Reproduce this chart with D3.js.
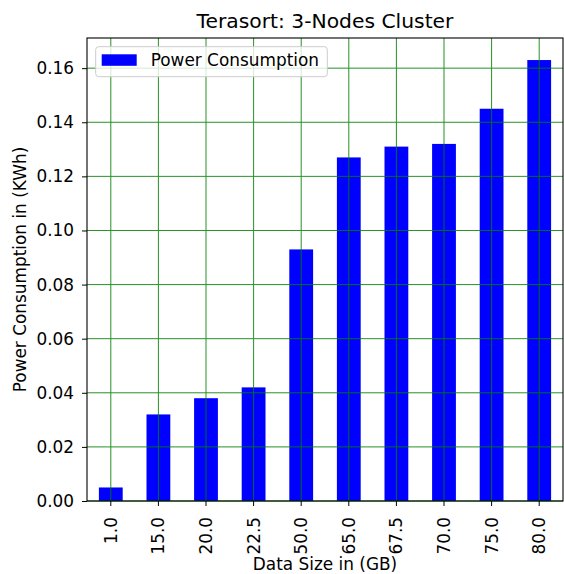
<html lang="en">
<head>
  <meta charset="UTF-8"/>
  <title>Terasort: 3-Nodes Cluster</title>
  <script src="https://d3js.org/d3.v7.min.js"></script>
  <style>
    body { margin: 0; background: #fff; }
    text { font-family: "DejaVu Sans", sans-serif; fill: #000; }
  </style>
</head>
<body>
<svg id="chart"></svg>
<script>
// data
var dataSizes = ["1.0", "15.0", "20.0", "22.5", "50.0", "65.0", "67.5", "70.0", "75.0", "80.0"];
var powerKWh = [0.005, 0.032, 0.038, 0.042, 0.093, 0.127, 0.131, 0.132, 0.145, 0.163];
var yTicks = [0, 0.02, 0.04, 0.06, 0.08, 0.10, 0.12, 0.14, 0.16];

var width = 564, height = 574;
var plotLeft = 87, plotRight = 563, plotTop = 38, plotBottom = 501;

var svg = d3.select("#chart").attr("width", width).attr("height", height);

var x = d3.scaleBand().domain(dataSizes).range([plotLeft, plotRight])
    .paddingInner(0.5).paddingOuter(0.25);
var y = d3.scaleLinear().domain([0, d3.max(powerKWh) * 1.05]).range([plotBottom, plotTop]);

/* bars */
svg.append("g").selectAll("rect")
    .data(powerKWh)
    .enter().append("rect")
    .attr("x", function(d, i){ return x(dataSizes[i]); })
    .attr("y", function(d){ return y(d); })
    .attr("width", x.bandwidth())
    .attr("height", function(d){ return plotBottom - y(d); })
    .attr("fill", "#0000ff");

/* grid on top of the bars */
var grid = svg.append("g").attr("stroke", "green").attr("stroke-width", 1).attr("opacity", 0.85);
grid.selectAll("line.h").data(yTicks).enter().append("line")
    .attr("x1", plotLeft).attr("x2", plotRight)
    .attr("y1", function(d){ return y(d); }).attr("y2", function(d){ return y(d); });
grid.selectAll("line.v").data(dataSizes).enter().append("line")
    .attr("y1", plotTop).attr("y2", plotBottom)
    .attr("x1", function(d){ return x(d) + x.bandwidth() / 2; })
    .attr("x2", function(d){ return x(d) + x.bandwidth() / 2; });

/* axes */
var yAxis = d3.axisLeft(y).tickValues(yTicks).tickFormat(d3.format(".2f")).tickSize(5).tickPadding(8);
var gy = svg.append("g").attr("transform", "translate(" + plotLeft + ",0)").call(yAxis);
gy.select(".domain").remove();
gy.selectAll("text").attr("font-family", "DejaVu Sans").attr("font-size", 16.9).attr("fill", "#000");
gy.selectAll("line").attr("stroke", "#000");

var xAxis = d3.axisBottom(x).tickSize(5).tickPadding(0);
var gx = svg.append("g").attr("transform", "translate(0," + plotBottom + ")").call(xAxis);
gx.select(".domain").remove();
gx.selectAll("line").attr("stroke", "#000");
gx.selectAll("text")
    .attr("font-family", "DejaVu Sans").attr("font-size", 16.9).attr("fill", "#000")
    .attr("transform", "rotate(-90)")
    .attr("text-anchor", "end")
    .attr("x", -16).attr("y", 0).attr("dy", "0.35em");

/* spines */
svg.append("rect")
    .attr("x", plotLeft).attr("y", plotTop)
    .attr("width", plotRight - plotLeft).attr("height", plotBottom - plotTop)
    .attr("fill", "none").attr("stroke", "#000").attr("stroke-width", 1.1);

/* legend */
var legend = svg.append("g");
legend.append("rect")
    .attr("x", 95.7).attr("y", 46.7).attr("width", 231.6).attr("height", 30).attr("rx", 3)
    .attr("fill", "#fff").attr("fill-opacity", 0.8).attr("stroke", "#cccccc");
legend.append("rect")
    .attr("x", 101.7).attr("y", 54.3).attr("width", 35).attr("height", 11.5)
    .attr("fill", "#0000ff");
legend.append("text")
    .attr("x", 150.7).attr("y", 65.7).attr("font-size", 16.9)
    .text("Power Consumption");

/* title and labels */
svg.append("text")
    .attr("x", (plotLeft + plotRight) / 2).attr("y", 27.5)
    .attr("text-anchor", "middle").attr("font-size", 20.3)
    .text("Terasort: 3-Nodes Cluster");

svg.append("text")
    .attr("x", (plotLeft + plotRight) / 2).attr("y", 570)
    .attr("text-anchor", "middle").attr("font-size", 16.9)
    .text("Data Size in (GB)");

svg.append("text")
    .attr("transform", "translate(26," + (plotTop + plotBottom) / 2 + ") rotate(-90)")
    .attr("text-anchor", "middle").attr("font-size", 16.9)
    .text("Power Consumption in (KWh)");
</script>
</body>
</html>
